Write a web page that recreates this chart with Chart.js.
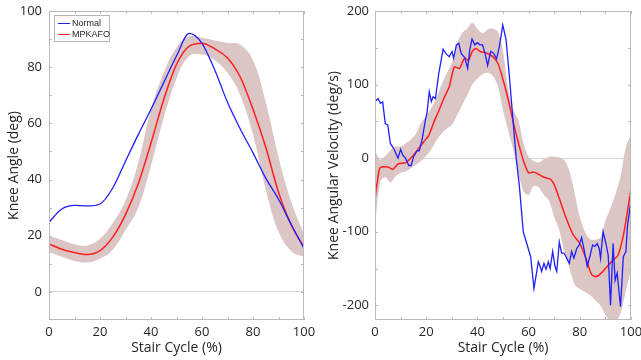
<!DOCTYPE html>
<html>
<head>
<meta charset="utf-8">
<script src="https://cdn.jsdelivr.net/npm/chart.js@4.4.1/dist/chart.umd.min.js"></script>
<style>
  body { margin: 0; background: #fff; }
  #wrap { position: relative; width: 641px; height: 360px; }
  .pane { position: absolute; top: 0; height: 360px; }
  #left { left: 0; width: 320px; }
  #right { left: 320px; width: 321px; }
  #legend {
    position: absolute; left: 54px; top: 15px; width: 54px; height: 25px;
    border: 1px solid #b4b4b4; background: #fff;
    font: 9px "Liberation Sans", Arial, sans-serif; color: #262626;
  }
  #legend div { position: absolute; left: 3px; height: 11px; line-height: 11px; white-space: nowrap; }
  #legend span { display: inline-block; width: 12px; vertical-align: middle; margin-right: 2px; }
</style>
</head>
<body>
<div id="wrap">
  <div class="pane" id="left"><canvas id="angleChart"></canvas></div>
  <div class="pane" id="right"><canvas id="velocityChart"></canvas></div>
  <div id="legend">
    <div style="top:2px"><span style="border-top:1.3px solid #1f1fff"></span>Normal</div>
    <div style="top:13px"><span style="border-top:1.5px solid #ff1f1f"></span>MPKAFO</div>
  </div>
</div>
<script>
// ---- data: knee angle ----
const stairPct = [0, 5, 10, 15, 20, 25, 30, 35, 40, 45, 50, 55, 60, 65, 70, 75, 80, 85, 90, 95, 100];
const angleNormal = [24.8, 29.5, 30.8, 30.6, 31.3, 37, 46.5, 56, 65, 74.5, 84, 92, 88.5, 79, 67.5, 58, 49.5, 40.5, 33, 24, 15.5];
const angleMpkafo = [17.1, 15.2, 14, 13.3, 14.7, 19.5, 27.5, 38.5, 53, 68.5, 81, 87.5, 88.5, 86.5, 83.3, 76.5, 65, 51.5, 35.5, 23.8, 16];
const angleMpkafoHi = [20, 18.5, 17, 16.5, 18.9, 24.5, 32.5, 46, 65, 78, 87, 91, 90.5, 89.5, 88.7, 88, 82.5, 67.5, 48, 32, 20.5];
const angleMpkafoLo = [14.2, 12.5, 11, 10.5, 11.8, 15, 22, 30, 45, 62, 76, 84, 84.5, 82.5, 78, 70, 56, 36.5, 21.5, 14.5, 12.5];

// ---- data: knee angular velocity ----
const velNormalX = [0, 1.2, 2.1, 3.0, 4.0, 5.0, 6.0, 7.3, 9.0, 10.0,
  10.8, 11.9, 13.2, 14.1, 15.1, 16.4, 17.3, 18.4, 19.7, 20.3,
  21.2, 22.0, 22.7, 23.6, 24.9, 26.6, 27.7, 29.0, 30.1, 30.7,
  31.8, 32.7, 33.7, 35.0, 36.2, 37.0, 37.9, 39.0, 40.0, 41.0,
  42.0, 43.0, 44.0, 45.2, 46.2, 47.5, 48.6, 49.9, 51.2, 52.5,
  53.8, 55.1, 56.4, 57.9, 59.2, 60.8, 62.1, 63.8, 64.5, 65.1,
  66.0, 66.8, 67.7, 68.4, 69.4, 70.3, 71.0, 72.0, 72.9, 73.8,
  74.6, 75.9, 76.8, 77.7, 78.8, 79.8, 80.7, 81.6, 82.9, 83.9,
  85.0, 85.9, 86.8, 87.6, 88.1, 89.1, 90.2, 91.1, 92.0, 93.0,
  93.8, 94.6, 95.9, 97.0, 98.0, 98.6, 100];
const velNormal = [77, 81, 74.5, 76.5, 47, 45, 20, 13, 0, 12,
  4.5, 0, -10, -10, 2, 10, 10, 25, 52, 61,
  90, 77, 83.5, 81, 115, 148, 142, 138, 145, 136,
  154, 156, 142, 137, 122, 147, 162, 154, 157, 154,
  154, 142, 126, 145, 143, 135, 152, 181, 161, 111,
  56, 2, -38, -100, -115, -134, -177, -141, -147, -154,
  -143, -151, -141, -150, -127, -147, -154, -114, -129, -129,
  -134, -143, -127, -136, -123, -118, -108, -123, -147, -134,
  -118, -120, -116, -123, -136, -100, -116, -132, -200, -116,
  -166, -156, -202, -134, -127, -93, -57];

const velMeanX = [0, 1, 2, 5, 7, 9, 12, 14.5, 17, 19,
  21, 23, 25, 27, 29, 31, 33, 35, 36.5, 38,
  39.5, 41, 43.5, 46, 48, 50, 52, 54, 56, 58,
  60, 62, 64, 66, 68.5, 70, 72, 74.5, 77.4, 80,
  82.6, 84.6, 86.5, 89, 92.3, 94.9, 96.9, 98.5, 100];
const velMpkafo = [-55, -30, -13, -12, -15, -8, -6, 2, 13, 22,
  31, 49, 65, 82, 97, 124, 122, 136, 133, 145,
  149, 145, 143, 138, 129, 107, 80, 49, 21, -4,
  -20, -19, -22, -26, -28.5, -36, -55, -80, -104, -116,
  -138, -158, -161, -154, -141, -132, -107, -75, -41];

const velBandX = [0, 2, 4, 6, 8, 10, 12, 14, 16, 18, 20, 22, 24, 26, 28, 30, 32, 34, 36, 38,
  40, 42, 44, 46, 48, 50, 52, 54, 56, 58, 60, 62, 64, 66, 68, 70, 72, 74, 76, 78,
  80, 82, 84, 86, 88, 90, 92, 94, 96, 98, 100];
const velMpkafoHi = [10, -2, 3, 10, 16, 16, 20, 25, 33, 48, 57, 68, 82, 100, 115, 130, 155, 170, 176, 184,
  176, 170, 175, 176, 172, 145, 95, 65, 52, 20, 2, -4, -6, -1, 2, 2, 1, -3, -18, -48,
  -80, -100, -110, -111, -108, -85, -68, -48, -24, 15, 32];
const velMpkafoLo = [-95, -32, -26, -33, -25, -20, -18, -14, -9, -4, 3, 12, 24, 33, 40, 45, 58, 72, 85, 100,
  108, 114, 116, 112, 98, 65, 38, 12, -20, -45, -50, -38, -40, -50, -58, -80, -98, -128, -150, -172,
  -178, -182, -186, -193, -200, -213, -222, -222, -210, -180, -152];

// ---- ticks ----
const stairTicks = [0, 10, 20, 30, 40, 50, 60, 70, 80, 90, 100];
const stairLabels = [0, 20, 40, 60, 80, 100];
const angleTicks = [0, 10, 20, 30, 40, 50, 60, 70, 80, 90, 100];
const angleLabels = [0, 20, 40, 60, 80, 100];
const velTicks = [-200, -150, -100, -50, 0, 50, 100, 150, 200];
const velLabels = [-200, -100, 0, 100, 200];

const blue = '#1f1fff';
const red = '#ff1f1f';
const band = '#dcc5c5';
const axisColor = '#bababa';
const textColor = '#262626';
const font = 'Open Sans';

const pts = (xs, ys) => xs.map((x, i) => ({x: x, y: ys[i]}));

// khung + vạch chia hướng vào trong
const frame = {
    id: 'frame',
    afterDatasetsDraw(chart) {
        const {ctx, chartArea: a, scales} = chart;
        const len = 3;
        ctx.save();
        ctx.strokeStyle = axisColor;
        ctx.lineWidth = 1;
        ctx.strokeRect(Math.round(a.left) + 0.5, Math.round(a.top) + 0.5,
            Math.round(a.right - a.left) - 1, Math.round(a.bottom - a.top) - 1);
        ctx.beginPath();
        scales.x.ticks.forEach(t => {
            const p = Math.round(scales.x.getPixelForValue(t.value)) + 0.5;
            ctx.moveTo(p, a.bottom); ctx.lineTo(p, a.bottom - len);
            ctx.moveTo(p, a.top); ctx.lineTo(p, a.top + len);
        });
        scales.y.ticks.forEach(t => {
            const p = Math.round(scales.y.getPixelForValue(t.value)) + 0.5;
            ctx.moveTo(a.left, p); ctx.lineTo(a.left + len, p);
            ctx.moveTo(a.right, p); ctx.lineTo(a.right - len, p);
        });
        ctx.stroke();
        ctx.restore();
    }
};

function xScale() {
    return {
        type: 'linear', min: 0, max: 100,
        afterBuildTicks: s => { s.ticks = stairTicks.map(v => ({value: v})); },
        // kích thước cố định, bỏ phần đệm nhãn để vùng vẽ khớp hình gốc
        afterFit: s => { s.height = 40; s.paddingLeft = 0; s.paddingRight = 0; },
        grid: {display: false, drawTicks: false},
        border: {display: false},
        ticks: {
            autoSkip: false, maxRotation: 0, padding: 4, color: textColor,
            font: {family: font, size: 13},
            callback: v => stairLabels.includes(v) ? String(v) : ''
        },
        title: {display: true, text: 'Stair Cycle (%)', color: textColor,
            font: {family: font, size: 14}, padding: {top: 0, bottom: 3.6}}
    };
}

function yScale(min, max, ticks, labels, width, gap, title) {
    return {
        type: 'linear', min: min, max: max,
        afterBuildTicks: s => { s.ticks = ticks.map(v => ({value: v})); },
        afterFit: s => { s.width = width; s.paddingTop = 0; s.paddingBottom = 0; },
        grid: {
            drawTicks: false,
            color: c => (c.tick && c.tick.value === 0) ? '#d6d6d6' : 'rgba(0,0,0,0)'
        },
        border: {display: false},
        ticks: {
            autoSkip: false, padding: gap, color: textColor,
            font: {family: font, size: 13},
            callback: v => labels.includes(v) ? String(v) : ''
        },
        title: {display: true, text: title, color: textColor,
            font: {family: font, size: 14}, padding: {top: 5.6, bottom: 0}}
    };
}

function bandSets(xs, hi, lo, tension) {
    return [
        {data: pts(xs, hi), borderWidth: 0, pointRadius: 0, fill: false, tension: tension, order: 3},
        {data: pts(xs, lo), borderWidth: 0, pointRadius: 0, fill: '-1', backgroundColor: band, tension: tension, order: 3}
    ];
}

const common = {
    responsive: true,
    maintainAspectRatio: false,
    animation: false,
    plugins: {legend: {display: false}, tooltip: {enabled: false}}
};

new Chart(document.getElementById('angleChart'), {
    type: 'line',
    data: {
        datasets: [
            ...bandSets(stairPct, angleMpkafoHi, angleMpkafoLo, 0.4),
            {label: 'Normal', data: pts(stairPct, angleNormal), borderColor: blue, borderWidth: 1.3,
                pointRadius: 0, cubicInterpolationMode: 'monotone', order: 1},
            {label: 'MPKAFO', data: pts(stairPct, angleMpkafo), borderColor: red, borderWidth: 1.5,
                pointRadius: 0, cubicInterpolationMode: 'monotone', order: 2}
        ]
    },
    options: {
        ...common,
        layout: {padding: {top: 11, right: 16, left: 0, bottom: 0}},
        scales: {
            x: xScale(),
            y: yScale(-10, 100, angleTicks, angleLabels, 49, 7, 'Knee Angle (deg)')
        }
    },
    plugins: [frame]
});

new Chart(document.getElementById('velocityChart'), {
    type: 'line',
    data: {
        datasets: [
            ...bandSets(velBandX, velMpkafoHi, velMpkafoLo, 0.3),
            {label: 'Normal', data: pts(velNormalX, velNormal), borderColor: blue, borderWidth: 1.3,
                pointRadius: 0, tension: 0, order: 1},
            {label: 'MPKAFO', data: pts(velMeanX, velMpkafo), borderColor: red, borderWidth: 1.5,
                pointRadius: 0, tension: 0.25, order: 2}
        ]
    },
    options: {
        ...common,
        layout: {padding: {top: 11, right: 10, left: 0, bottom: 0}},
        scales: {
            x: xScale(),
            y: yScale(-220, 200, velTicks, velLabels, 55, 6, 'Knee Angular Velocity (deg/s)')
        }
    },
    plugins: [frame]
});
</script>
</body>
</html>
